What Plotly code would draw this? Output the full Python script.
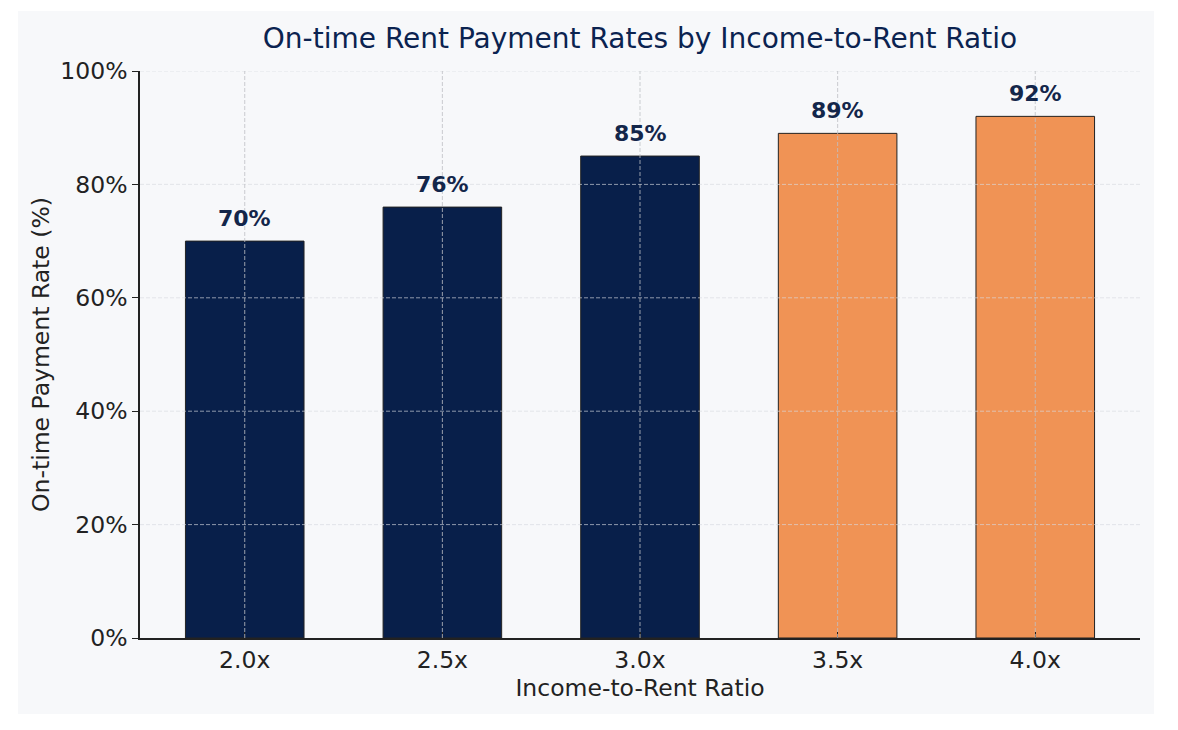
import plotly.graph_objects as go

categories = ["2.0x", "2.5x", "3.0x", "3.5x", "4.0x"]
rates = [70, 76, 85, 89, 92]
bar_colors = ["#081f4a", "#081f4a", "#081f4a", "#f09355", "#f09355"]
y_ticks = [0, 20, 40, 60, 80, 100]
y_tick_labels = ["0%", "20%", "40%", "60%", "80%", "100%"]

FONT = "DejaVu Sans"
fig = go.Figure()
fig.add_trace(go.Bar(
    x=categories, y=rates, width=0.6,
    marker=dict(color=bar_colors, line=dict(color="#222222", width=1)),
    hoverinfo="skip", showlegend=False,
))

for c, v in zip(categories, rates):
    fig.add_annotation(x=c, y=v, text=f"<b>{v}%</b>", showarrow=False,
                       yanchor="bottom", yshift=8,
                       font=dict(family=FONT, size=22, color="#13264a"))

shapes = []
# background panel
shapes.append(dict(type="rect", xref="paper", yref="paper",
                   x0=(18 - 140) / 1000, x1=(1154 - 140) / 1000,
                   y0=-(714 - 638) / 567, y1=(638 - 11) / 567,
                   fillcolor="#f7f8fa", line=dict(width=0), layer="below"))
# gridlines drawn above bars
for t in y_ticks[1:]:
    shapes.append(dict(type="line", xref="paper", yref="y", x0=0, x1=1, y0=t, y1=t,
                       line=dict(color="rgba(215,218,224,0.65)", width=1, dash="4px,2px"),
                       layer="above"))
for c in categories:
    shapes.append(dict(type="line", xref="x", yref="paper", x0=c, x1=c, y0=0, y1=1,
                       line=dict(color="rgba(190,192,196,0.8)", width=1, dash="4px,2px"),
                       layer="above"))
fig.update_layout(shapes=shapes)

fig.update_layout(
    width=1178, height=730,
    margin=dict(l=140, r=38, t=71, b=92),
    paper_bgcolor="white", plot_bgcolor="#f7f8fa",
    font=dict(family=FONT, color="#222222"),
    title=dict(text="On-time Rent Payment Rates by Income-to-Rent Ratio",
               x=(640) / 1178, xanchor="center", y=1 - 38 / 730, yanchor="middle",
               font=dict(family=FONT, size=28, color="#0b2350")),
    bargap=0.4,
)
fig.update_xaxes(
    range=[-0.53, 4.53], showgrid=False, showline=True, linecolor="#222222", linewidth=1.5,
    ticks="inside", ticklen=6, tickcolor="#222222",
    tickfont=dict(family=FONT, size=23.5, color="#222222"),
    title=dict(text="Income-to-Rent Ratio", font=dict(family=FONT, size=23.5, color="#222222"), standoff=6),
)
fig.update_yaxes(
    range=[0, 100], tickvals=y_ticks, ticktext=y_tick_labels, showgrid=False,
    showline=True, linecolor="#222222", linewidth=1.5, zeroline=False,
    ticks="outside", ticklen=6, tickcolor="#222222",
    tickfont=dict(family=FONT, size=23.5, color="#222222"),
    title=dict(text="On-time Payment Rate (%)", font=dict(family=FONT, size=23.5, color="#222222"), standoff=4),
)

fig.write_html("out.html")
